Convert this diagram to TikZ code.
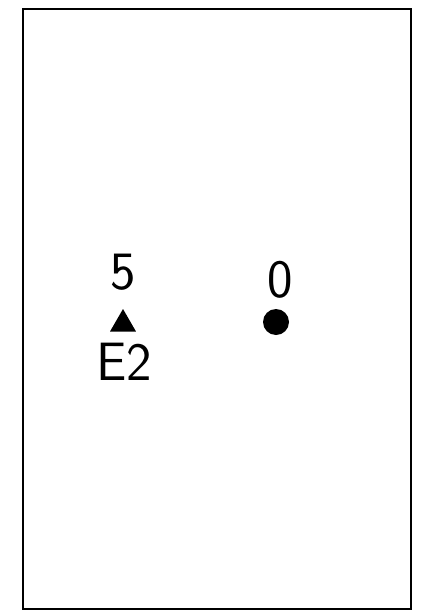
\documentclass[tikz,border=0pt]{standalone}
\usepackage{tikz}
\usetikzlibrary{shapes.geometric,positioning}
\tikzset{
  frame/.style={draw,line width=1.4pt},
  plabel/.style={inner sep=0pt,font=\sffamily\fontsize{54}{54}\selectfont},
  trimark/.style={regular polygon,regular polygon sides=3,fill=black,
                  inner sep=0pt,minimum size=30pt},
  dotmark/.style={circle,fill=black,inner sep=0pt,minimum size=26pt},
}
\begin{document}
\begin{tikzpicture}[x=1pt,y=-1pt]
  \useasboundingbox (0,0) rectangle (425,613);
  %% outer frame
  \draw[frame] (23,9) rectangle (411,609);
  %% station E2
  \node[trimark] (E2mark) at (123,324) {};
  \node[plabel] (E2val) at (123,272) {5};
  \node[plabel] (E2name) at (124,362) {E2};
  %% second station
  \node[dotmark] (Pmark) at (276,322) {};
  \node[plabel] (Pval) at (280,280) {0};
\end{tikzpicture}
\end{document}
